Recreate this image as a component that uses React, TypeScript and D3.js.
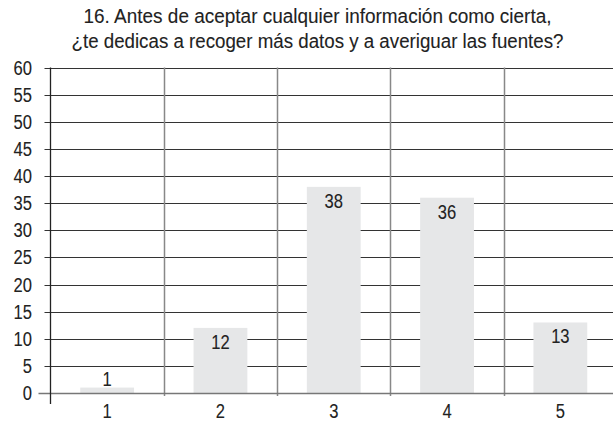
import React from "react";
import * as d3 from "d3";

const categories = ["1", "2", "3", "4", "5"];
const values = [1, 12, 38, 36, 13];
const yTicks = [0, 5, 10, 15, 20, 25, 30, 35, 40, 45, 50, 55, 60];
const titleLines = [
  "16. Antes de aceptar cualquier información como cierta,",
  "¿te dedicas a recoger más datos y a averiguar las fuentes?",
];
const titleWidths = [468, 492];

const W = 613;
const H = 423;
const left = 50.5;
const right = 617;
const top = 67.5;
const bottom = 393;
const FONT = "'Liberation Sans', Arial, Helvetica, sans-serif";
const SX = 0.85;

function T({ x, y, anchor, size, children }: { x: number; y: number; anchor: string; size: number; children: any }) {
  return (
    <text
      transform={`translate(${x},${y}) scale(${SX},1)`}
      textAnchor={anchor}
      fontSize={size}
      fontFamily={FONT}
      fill="#222"
      stroke="#222"
      strokeWidth={0.1}
    >
      {children}
    </text>
  );
}

export default function App() {
  const x = d3.scaleBand<string>().domain(categories).range([left, right]).paddingInner(0).paddingOuter(0);
  const y = d3.scaleLinear().domain([0, 60]).range([bottom, top]);
  const bw = x.bandwidth();
  const barW = bw * 0.475;

  return (
    <svg width={W} height={H} style={{ position: "absolute", left: 0, top: 0, background: "#fff" }}>
      <g fontFamily={FONT} fill="#222" stroke="#222" strokeWidth={0.1}>
        {titleLines.map((t, i) => (
          <text
            key={i}
            x={317.5 - titleWidths[i] / 2}
            y={23 + i * 24.5}
            fontSize={19.5}
            textLength={titleWidths[i]}
            lengthAdjust="spacingAndGlyphs"
          >
            {t}
          </text>
        ))}
      </g>
      {/* horizontal gridlines */}
      {yTicks.filter((t) => t > 0).map((t) => (
        <line key={t} x1={left - 6} x2={W} y1={Math.round(y(t)) + 0.5} y2={Math.round(y(t)) + 0.5} stroke="#333" strokeWidth={1.2} />
      ))}
      {/* category dividers */}
      {categories.slice(1).map((c) => (
        <line key={c} x1={Math.round(x(c)!) + 0.5} x2={Math.round(x(c)!) + 0.5} y1={top} y2={bottom + 3} stroke="#888" strokeWidth={1.5} />
      ))}
      {/* bars */}
      {values.map((v, i) => {
        const cx = x(categories[i])! + bw / 2;
        return <rect key={i} x={cx - barW / 2} y={y(v)} width={barW} height={bottom - y(v)} fill="#e6e7e8" />;
      })}
      {/* zero line */}
      <line x1={left - 12} x2={W} y1={bottom + 0.5} y2={bottom + 0.5} stroke="#777" strokeWidth={1.5} />
      {/* y axis */}
      <line x1={left} x2={left} y1={top} y2={bottom + 11} stroke="#222" strokeWidth={1.3} />
      {/* y tick labels */}
      {yTicks.map((t) => (
        <T key={t} x={32} y={y(t) + 7} anchor="end" size={19.5}>
          {t}
        </T>
      ))}
      {/* x tick labels */}
      {categories.map((c) => (
        <T key={c} x={x(c)! + bw / 2} y={418} anchor="middle" size={19.5}>
          {c}
        </T>
      ))}
      {/* value labels */}
      {values.map((v, i) => {
        const cx = x(categories[i])! + bw / 2;
        const inside = v >= 5;
        return (
          <T key={i} x={cx} y={inside ? y(v) + 21 : y(v) - 2} anchor="middle" size={19.5}>
            {v}
          </T>
        );
      })}
    </svg>
  );
}
